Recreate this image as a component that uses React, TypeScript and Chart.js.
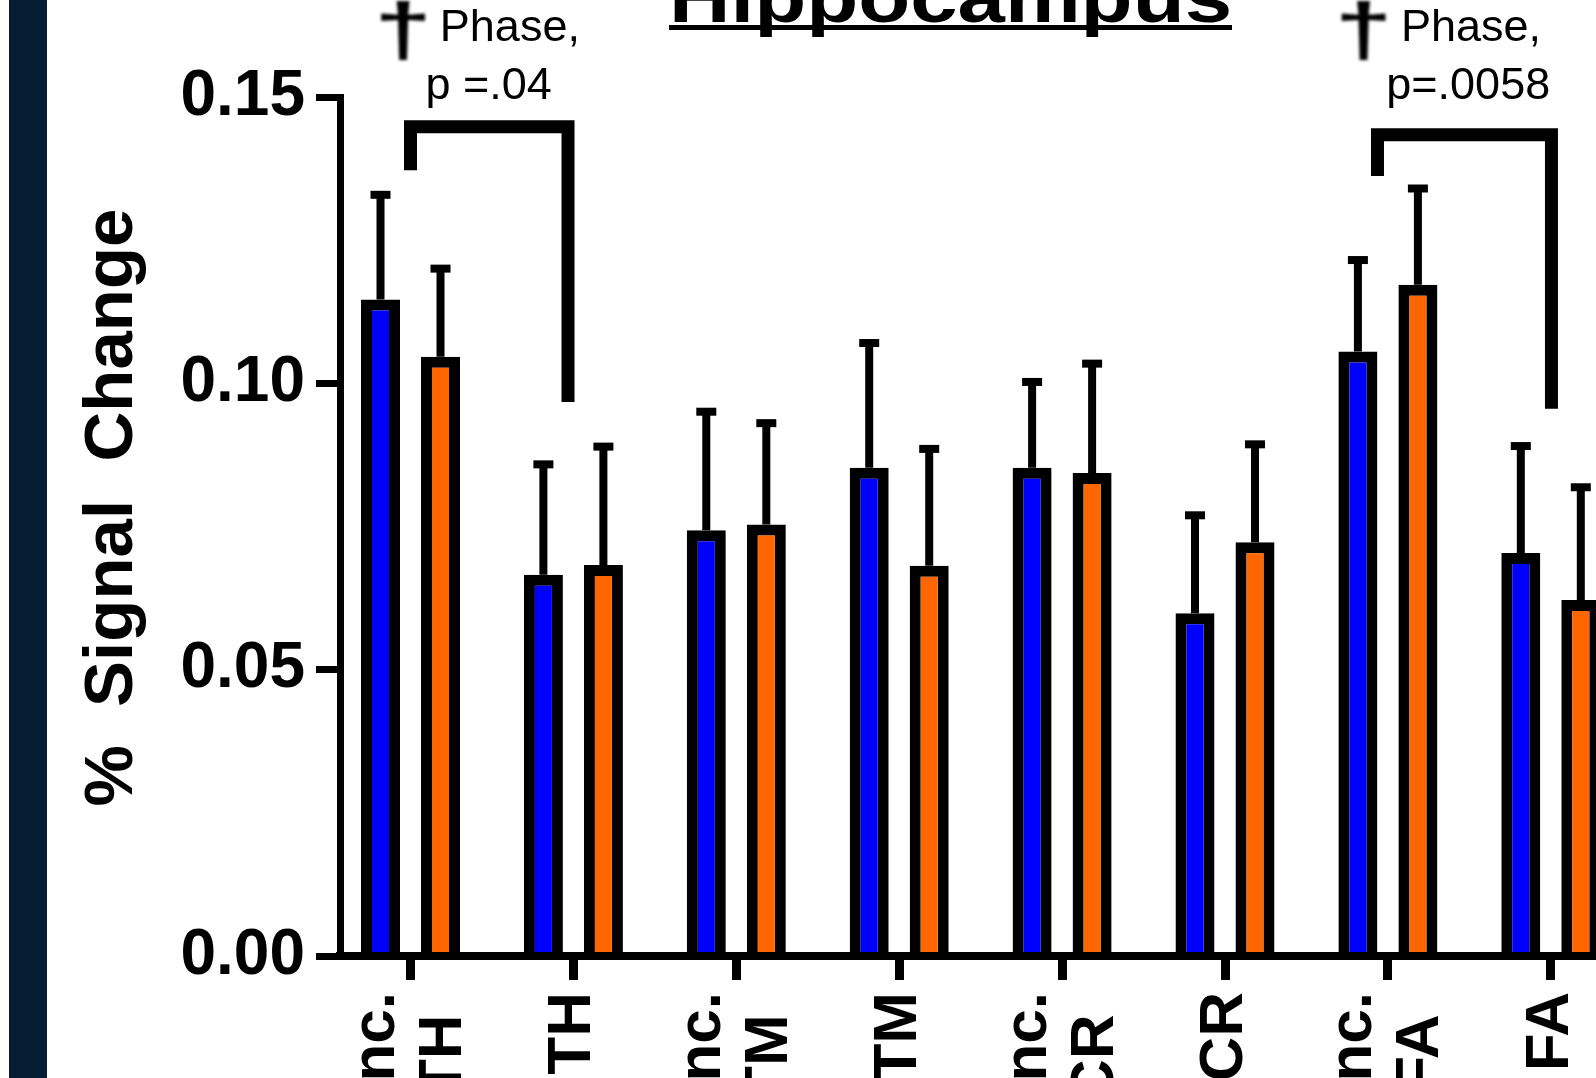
import React, { useEffect, useRef } from "react";
import { Chart, registerables } from "chart.js";

Chart.register(...registerables);

// ---- data ----
const categoryLines: string[][] = [
  ["Inc.", "TH"],
  ["TH"],
  ["Inc.", "TM"],
  ["TM"],
  ["Inc.", "CR"],
  ["CR"],
  ["Inc.", "FA"],
  ["FA"],
];
const blueMeans = [0.1147, 0.0666, 0.0744, 0.0853, 0.0853, 0.0599, 0.1056, 0.0704];
const blueUpper = [0.133, 0.0859, 0.0951, 0.1071, 0.1003, 0.077, 0.1216, 0.0891];
const orangeMeans = [0.1047, 0.0683, 0.0754, 0.0682, 0.0844, 0.0723, 0.1173, 0.0622];
const orangeUpper = [0.1201, 0.089, 0.0931, 0.0886, 0.1035, 0.0894, 0.1341, 0.0819];
const yTickValues = [0, 0.05, 0.1, 0.15];
const yTickLabels = ["0.00", "0.05", "0.10", "0.15"];

// significance brackets (category units / y values)
const bracketLegX = [
  [0, 0.967],
  [5.936, 7.004],
];
const bracketTopY = [0.1449, 0.1435];
const bracketLeftEndY = [0.1373, 0.1363];
const bracketRightEndY = [0.0968, 0.0956];
const noteTop = ["Phase,", "Phase,"];
const noteBottom = ["p =.04", "p=.0058"];
const noteDaggerX = [-0.046, 5.85];
const noteTopX = [0.18, 6.08];
const noteBottomX = [0.092, 5.99];
const noteTopY = 0.1599;
const noteBottomY = 0.1497;

const titleText = "Hippocampus";
const yTitle = "%  Signal  Change";

const FONT = "'Liberation Sans', Arial, Helvetica, sans-serif";
const X_MIN = -0.4328;
const X_MAX = 9.1436;

const overlayPlugin = {
  id: "overlay",
  afterDatasetsDraw(chart: any) {
    const ctx = chart.ctx as CanvasRenderingContext2D;
    const ys = chart.scales.y;
    ctx.save();
    ctx.strokeStyle = "#000";
    ctx.lineCap = "butt";
    chart.data.datasets.forEach((ds: any, di: number) => {
      const meta = chart.getDatasetMeta(di);
      const ups: number[] = ds.upper;
      meta.data.forEach((el: any, j: number) => {
        const cy = ys.getPixelForValue(ups[j]);
        ctx.lineWidth = 8;
        ctx.beginPath();
        ctx.moveTo(el.x, el.y);
        ctx.lineTo(el.x, cy);
        ctx.stroke();
        ctx.beginPath();
        ctx.moveTo(el.x - 10, cy);
        ctx.lineTo(el.x + 10, cy);
        ctx.stroke();
      });
    });
    ctx.restore();
  },
  afterDraw(chart: any) {
    const ctx = chart.ctx as CanvasRenderingContext2D;
    const xs = chart.scales.x;
    const ys = chart.scales.y;
    ctx.save();
    ctx.fillStyle = "#000";
    ctx.strokeStyle = "#000";

    // title (cropped at top)
    ctx.save();
    ctx.font = `bold 72px ${FONT}`;
    const tw = ctx.measureText(titleText).width;
    const sx = 563 / tw;
    ctx.translate(950.5, 22);
    ctx.scale(sx, 1);
    ctx.textAlign = "center";
    ctx.textBaseline = "alphabetic";
    ctx.fillText(titleText, 0, 0);
    ctx.restore();
    ctx.fillRect(669, 25, 563, 5);

    // brackets
    ctx.lineWidth = 13;
    ctx.lineJoin = "miter";
    ctx.lineCap = "butt";
    bracketLegX.forEach((legs, k) => {
      const x0 = xs.getPixelForValue(legs[0]);
      const x1 = xs.getPixelForValue(legs[1]);
      const yt = ys.getPixelForValue(bracketTopY[k]);
      const yl = ys.getPixelForValue(bracketLeftEndY[k]);
      const yr = ys.getPixelForValue(bracketRightEndY[k]);
      ctx.beginPath();
      ctx.moveTo(x0, yl);
      ctx.lineTo(x0, yt);
      ctx.lineTo(x1, yt);
      ctx.lineTo(x1, yr);
      ctx.stroke();
    });

    // notes
    noteTop.forEach((t, k) => {
      // dagger
      ctx.save();
      ctx.filter = "blur(1.5px)";
      ctx.font = `bold 74px ${FONT}`;
      ctx.translate(xs.getPixelForValue(noteDaggerX[k]), 55);
      ctx.scale(1.4, 1);
      ctx.textAlign = "center";
      ctx.textBaseline = "alphabetic";
      ctx.fillText("\u2020", 0, 0);
      ctx.restore();

      ctx.save();
      ctx.font = `45px ${FONT}`;
      ctx.textAlign = "left";
      ctx.textBaseline = "alphabetic";
      ctx.fillText(t, xs.getPixelForValue(noteTopX[k]), ys.getPixelForValue(noteTopY));
      ctx.fillText(
        noteBottom[k],
        xs.getPixelForValue(noteBottomX[k]),
        ys.getPixelForValue(noteBottomY)
      );
      ctx.restore();
    });
    ctx.restore();
  },
};

export default function App() {
  const ref = useRef<HTMLCanvasElement>(null);
  useEffect(() => {
    const canvas = ref.current;
    if (!canvas) return;
    const chart = new Chart(canvas, {
      type: "bar",
      data: {
        datasets: [
          {
            label: "Blue",
            data: blueMeans.map((v, i) => ({ x: i, y: v })),
            backgroundColor: "#0000ff",
            borderColor: "#000000",
            borderWidth: 11,
            categoryPercentage: 0.7367,
            barPercentage: 0.65,
            upper: blueUpper,
          } as any,
          {
            label: "Orange",
            data: orangeMeans.map((v, i) => ({ x: i, y: v })),
            backgroundColor: "#ff6600",
            borderColor: "#000000",
            borderWidth: 11,
            categoryPercentage: 0.7367,
            barPercentage: 0.65,
            upper: orangeUpper,
          } as any,
        ],
      },
      options: {
        responsive: false,
        animation: false,
        devicePixelRatio: 1,
        layout: { padding: { left: 72, top: 97.5, right: 0, bottom: 0 } },
        plugins: {
          legend: { display: false },
          tooltip: { enabled: false },
          title: { display: false },
        },
        scales: {
          x: {
            type: "linear",
            min: X_MIN,
            max: X_MAX,
            offset: false,
            afterBuildTicks: (s: any) => {
              s.ticks = categoryLines.map((_, i) => ({ value: i }));
            },
            afterFit: (s: any) => {
              s.height = 122;
            },
            grid: {
              display: true,
              offset: false,
              drawOnChartArea: false,
              drawTicks: true,
              tickLength: 24,
              tickWidth: 9,
              tickColor: "#000",
              color: "#000",
            },
            border: { display: true, color: "#000", width: 8, z: 1 },
            ticks: {
              autoSkip: false,
              maxRotation: 90,
              minRotation: 90,
              padding: 12,
              labelOffset: -33.5,
              color: "#000",
              font: (c: any) => {
                const lines = categoryLines[c.index] || [];
                return {
                  family: FONT,
                  size: 62,
                  weight: "bold",
                  lineHeight: lines.length === 2 ? "67px" : "33.5px",
                } as any;
              },
              callback: (value: any) => {
                const lines = categoryLines[value];
                if (!lines) return "";
                return lines.length === 2
                  ? [lines[0], lines[1] + " \u200A"]
                  : ["", lines[0]];
              },
            },
          } as any,
          y: {
            type: "linear",
            min: 0,
            max: 0.15,
            afterBuildTicks: (s: any) => {
              s.ticks = yTickValues.map((v) => ({ value: v }));
            },
            afterFit: (s: any) => {
              s.width = 268;
            },
            grid: {
              display: true,
              drawOnChartArea: false,
              drawTicks: true,
              tickLength: 24,
              tickWidth: 7,
              tickColor: "#000",
              color: "#000",
            },
            border: { display: true, color: "#000", width: 7, z: 1 },
            ticks: {
              autoSkip: false,
              padding: 11,
              color: "#000",
              font: { family: FONT, size: 64, weight: "bold" } as any,
              callback: (_v: any, i: number) => yTickLabels[i],
            },
            title: {
              display: true,
              text: "  " + yTitle,
              color: "#000",
              padding: 0,
              font: { family: FONT, size: 69, weight: "bold" } as any,
            },
          } as any,
        },
      },
      plugins: [overlayPlugin],
    });
    return () => chart.destroy();
  }, []);

  return (
    <div
      style={{
        position: "fixed",
        left: 0,
        top: 0,
        width: 1596,
        height: 1078,
        overflow: "hidden",
        background: "#ffffff",
      }}
    >
      <div
        style={{
          position: "absolute",
          left: 9,
          top: 0,
          width: 38,
          height: 1078,
          background: "#061d33",
        }}
      />
      <canvas
        ref={ref}
        width={1900}
        height={1078}
        style={{ position: "absolute", left: 0, top: 0, width: 1900, height: 1078 }}
      />
    </div>
  );
}
